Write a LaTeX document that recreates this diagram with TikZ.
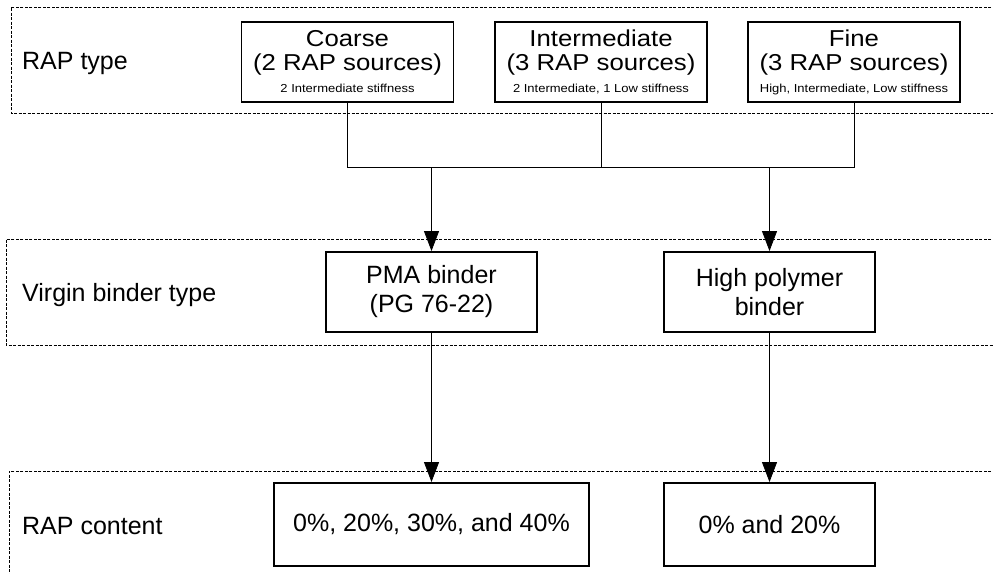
\documentclass[tikz,border=0pt]{standalone}
\usepackage{fontspec}
\setmainfont{Liberation Sans}
\newfontfamily\widefont[FakeStretch=1.12]{Liberation Sans}
\usetikzlibrary{arrows.meta,positioning}

\begin{document}
\begin{tikzpicture}[x=1pt,y=-1pt,
    box/.style={draw,line width=1.9pt,align=center,inner sep=0pt,
      minimum height=80pt,font=\fontsize{25}{29}\selectfont},
    srcbox/.style={box,minimum width=212pt,font=\widefont\fontsize{23}{24}\selectfont},
    band/.style={draw,line width=0.8pt,dash pattern=on 3pt off 1.5pt},
    lbl/.style={anchor=west,inner sep=0pt,font=\fontsize{25}{29}\selectfont},
    link/.style={draw,line width=0.8pt},
    arr/.style={link,-{Triangle[length=20pt,width=15pt]}}]
  \useasboundingbox (0,0) rectangle (993,573);
  % bands
  \draw[band] (1000,7) -| (11,113) -- (1000,113);
  \draw[band] (1000,239) -| (6,345) -- (1000,345);
  \draw[band] (1000,471) -| (9,600);
  \node[lbl] (L1) at (22,63)  {RAP type};
  \node[lbl] (L2) at (22,295) {Virgin binder type};
  \node[lbl] (L3) at (22,526) {RAP content};
  % RAP type
  \node[srcbox] (C) at (347.5,62)
    {Coarse\\(2 RAP sources)\\[-2pt]{\fontsize{11.6}{12}\selectfont 2 Intermediate stiffness}};
  \node[srcbox] (I) at (601,62)
    {Intermediate\\(3 RAP sources)\\[-2pt]{\fontsize{11.6}{12}\selectfont 2 Intermediate, 1 Low stiffness}};
  \node[srcbox] (F) at (854,62)
    {Fine\\(3 RAP sources)\\[-2pt]{\fontsize{11.6}{12}\selectfont High, Intermediate, Low stiffness}};
  % virgin binder
  \node[box,minimum width=211pt] (PMA) at (431.5,292) {PMA binder\\(PG 76-22)};
  \node[box,minimum width=211pt] (HP)  at (769.5,292) {High polymer\\binder};
  % RAP content
  \node[box,minimum width=315pt,minimum height=83pt] (RC1) at (431.5,524.5) {0\%, 20\%, 30\%, and 40\%};
  \node[box,minimum width=211pt,minimum height=83pt] (RC2) at (769.5,524.5) {0\% and 20\%};
  \coordinate (bus) at (0,167);
  \draw[link] (C.south) |- (F.south |- bus) -- (F.south);
  \draw[link] (I.south) -- (I.south |- bus);
  \draw[arr] (PMA.north |- bus) -- (PMA.north);
  \draw[arr] (HP.north |- bus) -- (HP.north);
  \draw[arr] (PMA.south) -- (RC1.north);
  \draw[arr] (HP.south) -- (RC2.north);
\end{tikzpicture}
\end{document}
